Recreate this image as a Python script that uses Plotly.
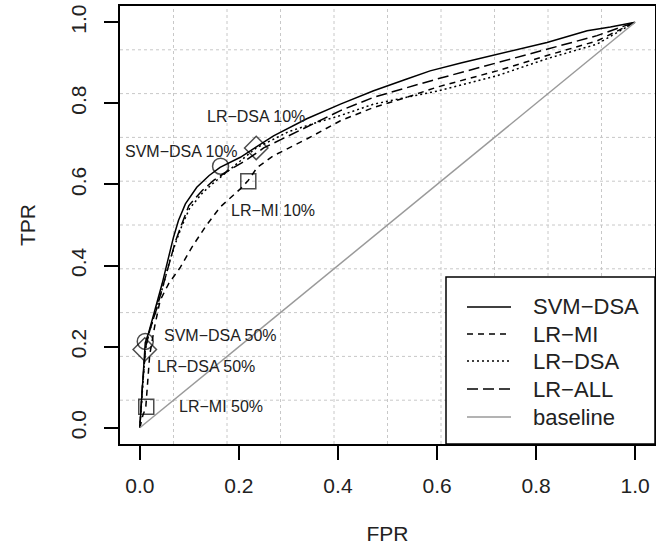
import plotly.graph_objects as go

# ---- data ----
svm_dsa_fpr = [0, 0.005, 0.011, 0.018, 0.031, 0.045, 0.058, 0.068, 0.078, 0.092, 0.115, 0.14, 0.162, 0.203, 0.27, 0.337, 0.405, 0.472, 0.539, 0.586, 0.65, 0.721, 0.822, 0.903, 0.95, 1.0]
svm_dsa_tpr = [0, 0.10, 0.21, 0.235, 0.29, 0.355, 0.42, 0.47, 0.511, 0.552, 0.593, 0.622, 0.642, 0.667, 0.72, 0.762, 0.798, 0.831, 0.86, 0.88, 0.90, 0.921, 0.95, 0.979, 0.988, 1.0]

lr_mi_fpr = [0, 0.006, 0.012, 0.02, 0.03, 0.041, 0.058, 0.082, 0.105, 0.132, 0.162, 0.203, 0.219, 0.237, 0.27, 0.337, 0.405, 0.472, 0.539, 0.6, 0.721, 0.822, 0.923, 1.0]
lr_mi_tpr = [0, 0.03, 0.05, 0.18, 0.25, 0.314, 0.355, 0.396, 0.445, 0.495, 0.544, 0.589, 0.61, 0.642, 0.671, 0.712, 0.757, 0.79, 0.815, 0.84, 0.88, 0.918, 0.954, 1.0]

lr_dsa_fpr = [0, 0.005, 0.011, 0.02, 0.033, 0.047, 0.06, 0.072, 0.084, 0.1, 0.127, 0.15, 0.18, 0.21, 0.235, 0.3, 0.35, 0.405, 0.472, 0.539, 0.6, 0.721, 0.822, 0.923, 1.0]
lr_dsa_tpr = [0, 0.10, 0.193, 0.24, 0.29, 0.35, 0.41, 0.455, 0.495, 0.54, 0.58, 0.605, 0.635, 0.665, 0.69, 0.73, 0.75, 0.77, 0.798, 0.815, 0.83, 0.868, 0.91, 0.946, 1.0]

lr_all_fpr = [0, 0.005, 0.012, 0.02, 0.033, 0.047, 0.06, 0.072, 0.084, 0.099, 0.126, 0.149, 0.18, 0.215, 0.25, 0.3, 0.35, 0.405, 0.472, 0.539, 0.6, 0.721, 0.822, 0.923, 1.0]
lr_all_tpr = [0, 0.10, 0.20, 0.24, 0.29, 0.35, 0.41, 0.46, 0.50, 0.548, 0.585, 0.61, 0.635, 0.66, 0.69, 0.72, 0.75, 0.782, 0.815, 0.839, 0.86, 0.90, 0.934, 0.967, 1.0]

baseline_fpr = [0, 1]
baseline_tpr = [0, 1]

# operating points (10% / 50%)
pt_labels = ["SVM−DSA 10%", "LR−DSA 10%", "LR−MI 10%", "SVM−DSA 50%", "LR−DSA 50%", "LR−MI 50%"]
pt_fpr = [0.163, 0.235, 0.219, 0.011, 0.010, 0.013]
pt_tpr = [0.645, 0.690, 0.608, 0.213, 0.193, 0.052]
pt_symbols = ["circle-open", "diamond-open", "square-open", "circle-open", "diamond-open", "square-open"]
# label anchor positions (data coords)
lab_fpr = [0.085, 0.235, 0.268, 0.163, 0.133, 0.163]
lab_tpr = [0.681, 0.768, 0.536, 0.228, 0.150, 0.053]

tick_vals = [0.0, 0.2, 0.4, 0.6, 0.8, 1.0]
tick_text = ["0.0", "0.2", "0.4", "0.6", "0.8", "1.0"]

FONT = "Liberation Sans, Arial, sans-serif"
TXT = "#222"

W, H = 656, 555
ML, MR, MT, MB = 120, 1, 6, 111
PW, PH = W - ML - MR, H - MT - MB


def px_x(px):
    return (px - ML) / PW


def px_y(py):
    return (H - MB - py) / PH


fig = go.Figure()

series = [
    ("SVM−DSA", svm_dsa_fpr, svm_dsa_tpr, "solid", "black"),
    ("LR−MI", lr_mi_fpr, lr_mi_tpr, "6px,5px", "black"),
    ("LR−DSA", lr_dsa_fpr, lr_dsa_tpr, "2px,3px", "black"),
    ("LR−ALL", lr_all_fpr, lr_all_tpr, "11px,5px", "black"),
    ("baseline", baseline_fpr, baseline_tpr, "solid", "#9a9a9a"),
]
for name, xs, ys, dash, col in series:
    fig.add_trace(go.Scatter(x=xs, y=ys, mode="lines", name=name, showlegend=False,
                             line=dict(color=col, width=1.5, dash=dash)))

sizes = {"circle-open": 16, "diamond-open": 18, "square-open": 15}
fig.add_trace(go.Scatter(
    x=pt_fpr, y=pt_tpr, mode="markers", showlegend=False,
    marker=dict(symbol=pt_symbols, size=[sizes[s] for s in pt_symbols],
                color="black", line=dict(color="black", width=1.5))))

for t, lx, ly in zip(pt_labels, lab_fpr, lab_tpr):
    fig.add_annotation(x=lx, y=ly, text=t, showarrow=False,
                       font=dict(family=FONT, size=16, color=TXT))

# dotted grid (R grid(10, 10) style)
grid_pos = [-0.04 + k * 0.108 for k in range(1, 10)]
for g in grid_pos:
    fig.add_shape(type="line", xref="x", yref="y domain", x0=g, x1=g, y0=0, y1=1,
                  line=dict(color="#c8c8c8", width=1, dash="dot"), layer="below")
    fig.add_shape(type="line", xref="x domain", yref="y", x0=0, x1=1, y0=g, y1=g,
                  line=dict(color="#c8c8c8", width=1, dash="dot"), layer="below")

# legend box (drawn manually to match R's legend layout)
fig.add_shape(type="rect", xref="paper", yref="paper",
              x0=px_x(446), x1=1, y0=0, y1=px_y(277),
              line=dict(color="black", width=1.5), fillcolor="white", layer="above")
leg_y = [307, 334, 361, 389, 417]
for (name, xs, ys, dash, col), ly in zip(series, leg_y):
    fig.add_shape(type="line", xref="paper", yref="paper",
                  x0=px_x(467), x1=px_x(511), y0=px_y(ly), y1=px_y(ly),
                  line=dict(color=col, width=1.5, dash=dash), layer="above")
    fig.add_annotation(xref="paper", yref="paper", x=px_x(531), y=px_y(ly),
                       xanchor="left", yanchor="middle", text=name, showarrow=False,
                       font=dict(family=FONT, size=22, color=TXT))

axis_common = dict(
    range=[-0.04, 1.04], tickmode="array", tickvals=tick_vals, ticktext=tick_text,
    ticks="outside", ticklen=14, tickwidth=1.5, tickcolor="black",
    showline=True, linecolor="black", linewidth=1.5, mirror=True,
    showgrid=False, zeroline=False, automargin=False,
    tickfont=dict(family=FONT, size=21, color=TXT),
)

fig.update_layout(
    width=W, height=H,
    margin=dict(l=ML, r=MR, t=MT, b=MB),
    plot_bgcolor="white", paper_bgcolor="white",
    font=dict(family=FONT, color=TXT),
    xaxis=dict(**axis_common, ticklabelstandoff=8,
               title=dict(text="FPR", font=dict(family=FONT, size=21, color=TXT), standoff=30)),
    yaxis=dict(**axis_common, tickangle=-90, ticklabelstandoff=10,
               title=dict(text="TPR", font=dict(family=FONT, size=21, color=TXT), standoff=25)),
    showlegend=False,
)

fig.write_html("out.html", config={"displayModeBar": False},
               post_script="document.body.style.margin='0';")
